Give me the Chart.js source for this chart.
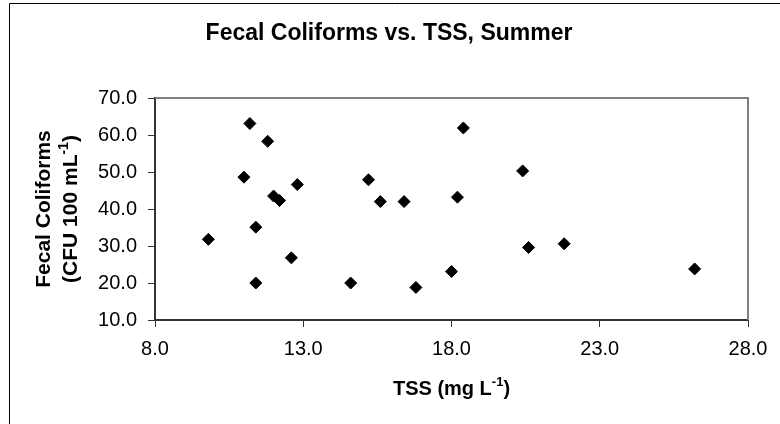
<!DOCTYPE html>
<html lang="en">
<head>
  <meta charset="UTF-8">
  <title>Fecal Coliforms vs. TSS, Summer</title>
  <style>
    body {
      margin: 0;
      background-color: #ffffff;
    }
    .wrap {
      width: 780px;
      height: 424px;
    }
  </style>
</head>
<body>
  <div class="wrap">
    <canvas id="chartCanvas" width="780" height="424"></canvas>
  </div>

  <script src="https://cdn.jsdelivr.net/npm/chart.js"></script>
  <script>
    // TSS (mg/L) and fecal coliforms (CFU/100 mL)
    const tss = [9.8, 11.0, 11.2, 11.4, 11.4, 11.8, 12.0, 12.2, 12.8, 12.6, 14.6,
                 15.2, 15.6, 16.4, 16.8, 18.0, 18.2, 18.4, 20.4, 20.6, 21.8, 26.2];
    const coliforms = [31.8, 48.6, 63.1, 35.1, 20.0, 58.3, 43.5, 42.3, 46.6, 26.8, 20.0,
                       47.9, 42.0, 42.0, 18.8, 23.1, 43.2, 61.9, 50.3, 29.6, 30.6, 23.8];

    const xTicks = [8, 13, 18, 23, 28];
    const yTicks = [10, 20, 30, 40, 50, 60, 70];

    const points = tss.map((x, i) => ({ x: x, y: coliforms[i] }));

    const FONT = "'Liberation Sans', Arial, sans-serif";

    // frame, plot border, title and axis titles (with superscripts)
    const decorations = {
      id: 'decorations',
      beforeDatasetsDraw(chart) {
        const { ctx, chartArea: a } = chart;
        ctx.save();
        ctx.strokeStyle = '#808080';
        ctx.lineWidth = 2;
        ctx.beginPath();
        ctx.moveTo(a.left, a.top);
        ctx.lineTo(a.right, a.top);
        ctx.lineTo(a.right, a.bottom);
        ctx.stroke();
        ctx.restore();
      },
      afterDraw(chart) {
        const { ctx, chartArea: a } = chart;
        ctx.save();
        // outer frame (only left and top are inside the picture)
        ctx.strokeStyle = '#000000';
        ctx.lineWidth = 1;
        ctx.beginPath();
        ctx.moveTo(9.5, 424);
        ctx.lineTo(9.5, 3.5);
        ctx.lineTo(780, 3.5);
        ctx.stroke();

        ctx.fillStyle = '#000000';
        ctx.textBaseline = 'middle';

        // chart title
        ctx.font = 'bold 23px ' + FONT;
        ctx.textAlign = 'center';
        ctx.fillText('Fecal Coliforms vs. TSS, Summer', 389, 34);

        // x axis title
        drawSup(ctx, 'TSS (mg L', '-1', ')', (a.left + a.right) / 2, 389, 20);

        // y axis title, two lines
        const cy = (a.top + a.bottom) / 2;
        ctx.save();
        ctx.translate(44, cy);
        ctx.rotate(-Math.PI / 2);
        ctx.font = 'bold 21px ' + FONT;
        ctx.textAlign = 'center';
        ctx.fillText('Fecal Coliforms', 0, 0);
        ctx.restore();

        ctx.save();
        ctx.translate(71, cy);
        ctx.rotate(-Math.PI / 2);
        drawSup(ctx, '(CFU 100 mL', '-1', ')', 0, 0, 21);
        ctx.restore();

        ctx.restore();
      }
    };

    function drawSup(ctx, before, sup, after, cx, cy, size) {
      const big = 'bold ' + size + 'px ' + FONT;
      const small = 'bold ' + Math.round(size * 0.65) + 'px ' + FONT;
      ctx.font = big;
      const w1 = ctx.measureText(before).width;
      const w3 = ctx.measureText(after).width;
      ctx.font = small;
      const w2 = ctx.measureText(sup).width;
      let x = cx - (w1 + w2 + w3) / 2;
      ctx.textAlign = 'left';
      ctx.textBaseline = 'middle';
      ctx.font = big;
      ctx.fillText(before, x, cy);
      x += w1;
      ctx.font = small;
      ctx.fillText(sup, x, cy - size * 0.35);
      x += w2;
      ctx.font = big;
      ctx.fillText(after, x, cy);
    }

    const ctx = document.getElementById('chartCanvas').getContext('2d');

    new Chart(ctx, {
      type: 'scatter',
      data: {
        datasets: [{
          label: 'Summer',
          data: points,
          pointStyle: 'rectRot',
          pointRadius: 6,
          pointBorderWidth: 1,
          backgroundColor: '#000000',
          borderColor: '#000000'
        }]
      },
      options: {
        responsive: false,
        animation: false,
        layout: { padding: { top: 98, right: 32, bottom: 0, left: 0 } },
        plugins: {
          legend: { display: false },
          tooltip: { enabled: false },
          title: { display: false }
        },
        scales: {
          x: {
            type: 'linear',
            min: xTicks[0],
            max: xTicks[xTicks.length - 1],
            afterFit(scale) { scale.height = 104; },
            afterBuildTicks(scale) { scale.ticks = xTicks.map(v => ({ value: v })); },
            grid: {
              drawOnChartArea: false,
              drawTicks: true,
              tickLength: 7,
              color: '#333333'
            },
            border: { display: true, color: '#333333', width: 2 },
            ticks: {
              color: '#000000',
              padding: 10,
              font: { family: FONT, size: 20 },
              callback: v => v.toFixed(1)
            }
          },
          y: {
            type: 'linear',
            min: yTicks[0],
            max: yTicks[yTicks.length - 1],
            afterFit(scale) { scale.width = 155; },
            afterBuildTicks(scale) { scale.ticks = yTicks.map(v => ({ value: v })); },
            grid: {
              drawOnChartArea: false,
              drawTicks: true,
              tickLength: 7,
              color: '#333333'
            },
            border: { display: true, color: '#333333', width: 2 },
            ticks: {
              color: '#000000',
              padding: 11,
              font: { family: FONT, size: 20 },
              callback: v => v.toFixed(1)
            }
          }
        }
      },
      plugins: [decorations]
    });
  </script>
</body>
</html>
